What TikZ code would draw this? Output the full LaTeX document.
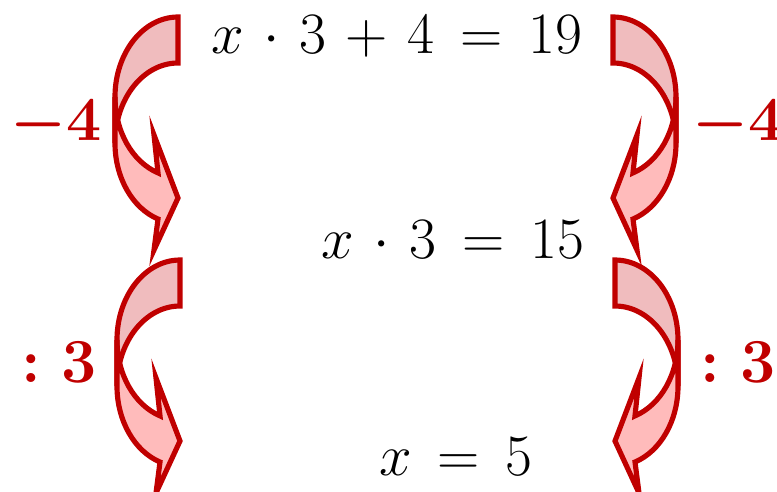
\documentclass[tikz,border=0pt]{standalone}
\usepackage{amsmath}
\usepackage{xcolor}
\usepackage{tikz}
\usetikzlibrary{positioning,calc}
\definecolor{rossoscuro}{RGB}{192,0,0}
\definecolor{rosaretro}{RGB}{240,188,190}
\definecolor{rosafronte}{RGB}{255,187,187}

\begin{document}
\begin{tikzpicture}[x=0.03cm,y=-0.03cm,
  banda/.style={draw=rossoscuro,line width=4.4pt},
  eq/.style={font=\Huge,scale=2.01,inner sep=0pt,anchor=base,
    execute at begin node={\medmuskip=6mu\thickmuskip=8mu}},
  passo/.style={text=rossoscuro,font=\Huge\boldmath,scale=2.15,inner sep=0pt,anchor=base},
  pics/freccia/.style={code={
    % parte dietro
    \filldraw[banda,fill=rosaretro] (0,0) arc[start angle=270,end angle=180,x radius=63,y radius=80]
      -- (-63,126) arc[start angle=180,end angle=270,x radius=63,y radius=80] -- cycle;
    % parte davanti con la punta
    \filldraw[banda,fill=rosafronte] (-63,80) arc[start angle=180,end angle=108.5,x radius=63,y radius=80]
      -- (-24,118) -- (0,181) -- (-24,233) -- (-20,202)
      arc[start angle=108.5,end angle=180,x radius=63,y radius=80] -- cycle;
  }}]
  \useasboundingbox (0,0) rectangle (777,491);
  % equazioni
  \node[eq] (eqA) at (397,53) {$x\cdot 3+4=19$};
  \node[eq] (eqB) at (453,258) {$x\cdot 3=15$};
  \node[eq] (eqC) at (456,475) {$x=5$};
  % frecce curve
  \pic at (178,17) {freccia};
  \pic[xscale=-1] at (613,17) {freccia};
  \pic at (180,260) {freccia};
  \pic[xscale=-1] at (615,260) {freccia};
  % passaggi
  \node[passo] (menoL) at (56,140) {$-4$};
  \node[passo] (menoR) at (738,140) {$-4$};
  \node[passo] (diviL) at (59,382) {$:3$};
  \node[passo] (diviR) at (738,382) {$:3$};
\end{tikzpicture}
\end{document}
